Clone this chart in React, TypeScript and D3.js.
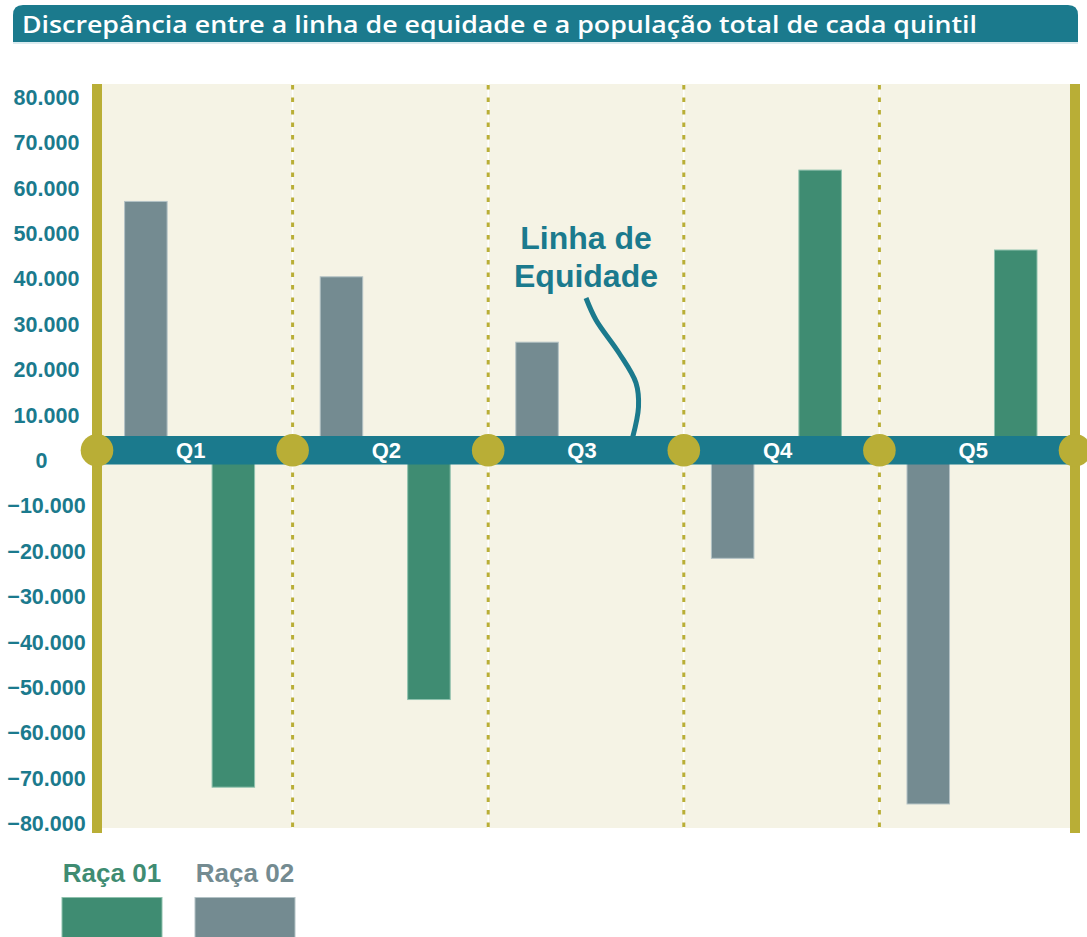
import React from "react";
import * as d3 from "d3";

const quintiles = ["Q1", "Q2", "Q3", "Q4", "Q5"];
const series = ["Raça 02", "Raça 01"];
const raca01 = [-72000, -52700, 0, 63900, 46300];
const raca02 = [57000, 40400, 26000, -21600, -75700];
const yTicks = d3.range(-80000, 80001, 10000);
const title = "Discrepância entre a linha de equidade e a população total de cada quintil";
const annotationLines = ["Linha de", "Equidade"];

const W = 1087;
const H = 937;
const TEAL = "#1b7a8d";
const GREEN = "#3f8c72";
const GRAY = "#748b91";
const OLIVE = "#b9ae36";
const BG = "#f5f3e5";
const FONT = "'Liberation Sans', Arial, sans-serif";

const colorOf: Record<string, string> = { "Raça 01": GREEN, "Raça 02": GRAY };
const strokeOf: Record<string, string> = { "Raça 01": "#8fc1ad", "Raça 02": "#b3c2c5" };

const locale = d3.formatLocale({ decimal: ",", thousands: ".", grouping: [3], currency: ["R$", ""] });
const fmt = locale.format(",d");

export default function App() {
  const plotTop = 84;
  const plotBottom = 828;
  const x = d3.scaleBand<string>().domain(quintiles).range([97, 1075]).padding(0);
  const x1 = d3.scaleBand<string>().domain(series).range([27.6, 157.6]).paddingInner(0.514).paddingOuter(0);
  const y = d3.scaleLinear().domain([-80000, 80000]).range([823.5, 97]);
  const step = x.step();
  const bandTop = 436;
  const bandBottom = 464.5;
  const bandMid = (bandTop + bandBottom) / 2;

  const bars: { q: string; s: string; v: number }[] = [];
  quintiles.forEach((q, i) => {
    bars.push({ q, s: "Raça 02", v: raca02[i] });
    bars.push({ q, s: "Raça 01", v: raca01[i] });
  });

  const boundaries = d3.range(quintiles.length + 1).map((i) => (i < quintiles.length ? (x(quintiles[i]) as number) : (x(quintiles[quintiles.length - 1]) as number) + step));

  const q3 = x("Q3") as number;
  const annX = q3 + step / 2;
  const curvePts: [number, number][] = [
    [annX, 298],
    [annX + 10, 320],
    [annX + 33, 353],
    [annX + 50, 383],
    [annX + 52.5, 407],
    [annX + 46.5, bandTop + 2],
  ];
  const curve = d3.line().curve(d3.curveCatmullRom)(curvePts) || "";

  return (
    <svg width={W} height={H} style={{ position: "absolute", left: 0, top: 0, background: "#fff" }} fontFamily={FONT}>
      <path d={`M13,42 L13,15 Q13,5 23,5 L1068,5 Q1078,5 1078,15 L1078,42 Z`} fill={TEAL} />
      <line x1={13} x2={1078} y1={43} y2={43} stroke="#cfe4ea" strokeWidth={1.5} />
      <text x={22} y={33} fill="#fff" fontSize={23} fontWeight={600} fontFamily="'Open Sans', sans-serif" textLength={955} lengthAdjust="spacingAndGlyphs">
        {title}
      </text>

      <rect x={97} y={plotTop} width={boundaries[boundaries.length - 1] - 97} height={plotBottom - plotTop} fill={BG} />

      {boundaries.slice(1, -1).map((bx, i) => (
        <g key={"sep" + i}>
          <line x1={bx} x2={bx} y1={plotTop} y2={plotBottom} stroke="#ffffff" strokeWidth={1.5} />
          <line x1={bx} x2={bx} y1={plotTop + 1} y2={plotBottom} stroke={OLIVE} strokeWidth={3} strokeDasharray="4.5 8" />
        </g>
      ))}

      {bars
        .filter((b) => b.v !== 0)
        .map((b, i) => {
          const bx = (x(b.q) as number) + (x1(b.s) as number);
          const y0 = y(0);
          const yv = y(b.v);
          return (
            <rect
              key={"bar" + i}
              x={bx}
              y={Math.min(y0, yv)}
              width={x1.bandwidth()}
              height={Math.abs(yv - y0)}
              fill={colorOf[b.s]}
              stroke={strokeOf[b.s]}
              strokeWidth={1}
            />
          );
        })}

      <rect x={boundaries[0] - 5} y={plotTop} width={10} height={833 - plotTop} fill={OLIVE} />
      <rect x={boundaries[boundaries.length - 1] - 5} y={plotTop} width={10} height={833 - plotTop} fill={OLIVE} />

      <rect x={boundaries[0]} y={bandTop} width={boundaries[boundaries.length - 1] - boundaries[0]} height={bandBottom - bandTop} fill={TEAL} />
      {boundaries.map((bx, i) => (
        <circle key={"dot" + i} cx={bx} cy={bandMid} r={16.3} fill={OLIVE} />
      ))}
      {quintiles.map((q) => (
        <text
          key={"ql" + q}
          x={(x(q) as number) + step / 2 - 4}
          y={bandMid}
          dy="0.36em"
          textAnchor="middle"
          fill="#fff"
          fontWeight="bold"
          fontSize={22}
        >
          {q}
        </text>
      ))}

      <path d={curve} fill="none" stroke={TEAL} strokeWidth={5} strokeLinecap="butt" />
      {annotationLines.map((t, i) => (
        <text key={"ann" + i} x={annX} y={249 + i * 38} textAnchor="middle" fill={TEAL} fontWeight="bold" fontSize={32}>
          {t}
        </text>
      ))}

      {yTicks.map((t) => (
        <text key={"yt" + t} x={t === 0 ? 41.5 : 46.5} y={y(t)} dy="0.36em" textAnchor="middle" fill={TEAL} fontWeight="bold" fontSize={21.5}>
          {fmt(t)}
        </text>
      ))}

      {["Raça 01", "Raça 02"].map((s, i) => {
        const lx = 62 + i * 133;
        return (
          <g key={"lg" + s}>
            <text x={lx + 50} y={882} textAnchor="middle" fill={colorOf[s]} fontWeight="bold" fontSize={26}>
              {s}
            </text>
            <rect x={lx} y={897.5} width={100} height={50} fill={colorOf[s]} stroke={strokeOf[s]} strokeWidth={1} />
          </g>
        );
      })}
    </svg>
  );
}
